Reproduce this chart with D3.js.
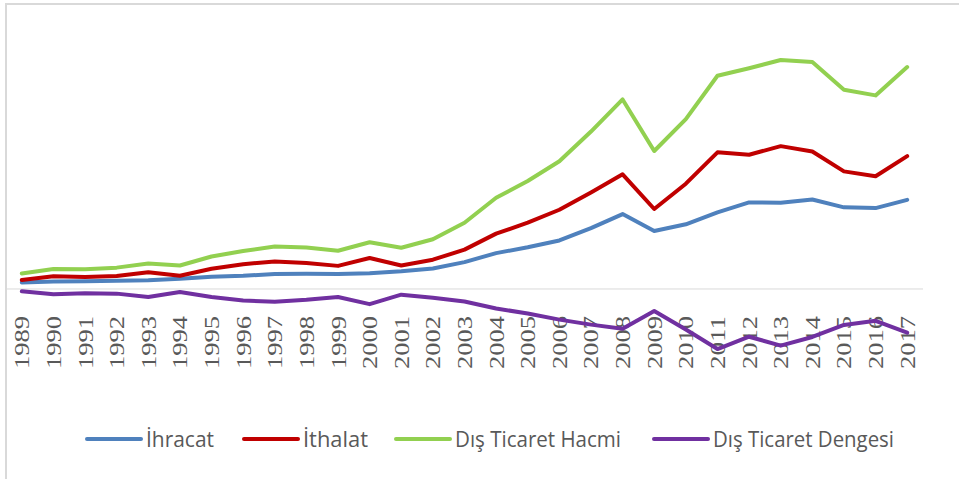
<!doctype html>
<html>
<head>
<meta charset="utf-8">
<style>
  body { margin: 0; background: #fff; }
  .year { font-family: "Liberation Serif", serif; font-size: 22px; fill: #595959; }
  .legend text { font-family: "Open Sans", "Liberation Sans", sans-serif; font-size: 21px; fill: #595959; }
</style>
<script src="https://d3js.org/d3.v7.min.js"></script>
</head>
<body>
<svg width="959" height="479"></svg>
<script>
// Türkiye dış ticaret (milyar $)
var years = ["1989","1990","1991","1992","1993","1994","1995","1996","1997","1998",
             "1999","2000","2001","2002","2003","2004","2005","2006","2007","2008",
             "2009","2010","2011","2012","2013","2014","2015","2016","2017"];

var ihracat = [11.6, 13.0, 13.6, 14.7, 15.3, 18.1, 21.6, 23.2, 26.3, 27.0,
               26.6, 27.8, 31.3, 36.1, 47.3, 63.2, 73.5, 85.5, 107.3, 132.0,
               102.1, 114.0, 134.9, 152.5, 151.8, 157.6, 143.8, 142.5, 157.0];

var ithalat = [15.8, 22.3, 21.0, 22.9, 29.4, 23.3, 35.7, 43.6, 48.6, 45.9,
               40.7, 54.5, 41.4, 51.6, 69.3, 97.5, 116.8, 139.6, 170.1, 202.0,
               140.9, 185.5, 240.8, 236.5, 251.7, 242.2, 207.2, 198.6, 234.0];

var hacim = [27.4, 35.3, 34.6, 37.6, 44.7, 41.4, 57.3, 66.8, 74.9, 72.9,
             67.3, 82.3, 72.7, 87.6, 116.6, 160.7, 190.3, 225.1, 277.4, 334.0,
             243.1, 299.4, 375.7, 389.0, 403.5, 399.8, 351.1, 341.1, 391.0];

var denge = [-4.2, -9.3, -7.4, -8.2, -14.1, -5.2, -14.1, -20.4, -22.3, -18.9,
             -14.1, -26.7, -10.1, -15.5, -22.1, -34.4, -43.3, -54.0, -62.8, -70.0,
             -38.8, -71.5, -105.9, -84.1, -99.9, -84.6, -63.4, -56.1, -77.0];

var seriesNames = ["İhracat", "İthalat", "Dış Ticaret Hacmi", "Dış Ticaret Dengesi"];
var seriesColors = ["#4f81bd", "#c00000", "#92d050", "#7030a0"];
var seriesValues = [ihracat, ithalat, hacim, denge];

var svg = d3.select("svg");

// chart frame (only left/top edges show in the crop)
svg.append("rect")
   .attr("x", 6).attr("y", 4)
   .attr("width", 1200).attr("height", 1200)
   .attr("fill", "none")
   .attr("stroke", "#d9d9d9")
   .attr("stroke-width", 2);

var x = d3.scaleBand().domain(years).range([6, 923]);
var y = d3.scaleLinear().domain([-150, 450]).range([374.1, 33.6]);

// zero line
svg.append("line")
   .attr("x1", 6).attr("x2", 923)
   .attr("y1", y(0)).attr("y2", y(0))
   .attr("stroke", "#d9d9d9")
   .attr("stroke-width", 1);

// year labels, rotated
svg.append("g").selectAll("text")
   .data(years)
   .enter().append("text")
   .attr("class", "year")
   .attr("transform", function(d) {
       return "translate(" + (x(d) + x.bandwidth() / 2) + ",316) rotate(-90)";
   })
   .attr("text-anchor", "end")
   .attr("dy", "0.34em")
   .attr("textLength", 53)
   .attr("lengthAdjust", "spacingAndGlyphs")
   .text(function(d) { return d; });

var line = d3.line()
    .x(function(d, i) { return x(years[i]) + x.bandwidth() / 2; })
    .y(function(d) { return y(d); });

seriesValues.forEach(function(vals, k) {
    svg.append("path")
       .datum(vals)
       .attr("d", line)
       .attr("fill", "none")
       .attr("stroke", seriesColors[k])
       .attr("stroke-width", 4)
       .attr("stroke-linejoin", "round")
       .attr("stroke-linecap", "round");
});

// legend
var legendX = [87, 244, 396, 654];
var legendTextW = [68, 65, 166, 181];
var lg = svg.append("g").attr("class", "legend");
seriesNames.forEach(function(name, k) {
    lg.append("line")
      .attr("x1", legendX[k]).attr("x2", legendX[k] + 54)
      .attr("y1", 439).attr("y2", 439)
      .attr("stroke", seriesColors[k])
      .attr("stroke-width", 4)
      .attr("stroke-linecap", "round");
    lg.append("text")
      .attr("x", legendX[k] + 59)
      .attr("y", 447)
      .attr("textLength", legendTextW[k])
      .attr("lengthAdjust", "spacingAndGlyphs")
      .text(name);
});
</script>
</body>
</html>
